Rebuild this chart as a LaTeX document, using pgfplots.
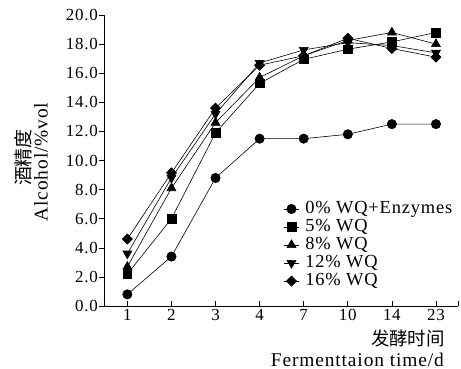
\documentclass[border=0pt]{standalone}
\usepackage{fontspec}
\setmainfont{Liberation Serif}[LetterSpace=4.5]
\newfontfamily\cjk{Noto Sans CJK SC}
\usepackage{pgfplots}
\pgfplotsset{compat=1.18}
\usetikzlibrary{calc}
\newcommand\fs{\fontsize{17}{20}\selectfont}
\newcommand\fl{\fontsize{19.5}{22}\selectfont}
\newcommand\fg{\fontsize{18.5}{21}\selectfont}
\begin{document}
\begin{tikzpicture}
\begin{axis}[name=ax, scale only axis, width=354bp, height=291bp,
  xmin=0.47, xmax=8.5, ymin=0, ymax=20,
  axis x line*=bottom, axis y line*=left,
  axis line style={line width=0.6pt},
  xtick={1,...,8}, xticklabels={1,2,3,4,7,10,14,23},
  extra x ticks={8.5}, extra x tick labels={},
  ytick={0,2,...,20},
  xtick align=inside, ytick align=outside,
  major tick length=5bp,
  tick style={line width=0.6pt, black},
  yticklabel style={inner sep=1bp, /pgf/number format/.cd, fixed, fixed zerofill, precision=1},
  /pgf/number format/assume math mode=true,
  ticklabel style={font=\fs},
  legend style={draw=none, fill=none, at={(0.4986,0.37)}, anchor=north west, font=\fg,
    nodes={inner sep=0pt, text height=13bp, text depth=4bp}, row sep=1bp,
    /tikz/every odd column/.append style={column sep=6bp}},
  legend cell align=left,
  legend image code/.code={\draw[mark repeat=2,mark phase=2] plot coordinates {(0bp,0bp)(7.5bp,0bp)(15bp,0bp)};},
  every axis plot/.append style={black, line width=0.6pt},
  clip=false,
]
\addplot[mark=*, mark size=4.7pt] coordinates {(1,0.8)(2,3.4)(3,8.8)(4,11.5)(5,11.5)(6,11.8)(7,12.5)(8,12.5)};
\addlegendentry{0\% WQ+Enzymes}
\addplot[mark=square*, mark size=4.4pt] coordinates {(1,2.2)(2,6.0)(3,11.9)(4,15.3)(5,16.95)(6,17.65)(7,18.15)(8,18.8)};
\addlegendentry{5\% WQ}
\addplot[mark=triangle*, mark size=5.2pt] coordinates {(1,2.7)(2,8.1)(3,12.6)(4,15.7)(5,17.2)(6,18.25)(7,18.8)(8,18.0)};
\addlegendentry{8\% WQ}
\addplot[mark=triangle*, mark size=5.2pt, mark options={rotate=180}] coordinates {(1,3.6)(2,8.8)(3,13.2)(4,16.7)(5,17.6)(6,18.1)(7,17.9)(8,17.4)};
\addlegendentry{12\% WQ}
\addplot[mark=square*, mark size=3.6pt, mark options={rotate=45}] coordinates {(1,4.6)(2,9.15)(3,13.6)(4,16.55)(5,17.2)(6,18.4)(7,17.7)(8,17.1)};
\addlegendentry{16\% WQ}
\node[anchor=base east, inner sep=0pt, font=\fontsize{18.5}{20}\selectfont\cjk] at ([xshift=-13bp,yshift=-39bp]rel axis cs:1,0) {发酵时间};
\node[anchor=base east, inner sep=0pt, font=\fl] at ([xshift=-14bp,yshift=-60bp]rel axis cs:1,0) {Fermenttaion time/d};
\node[rotate=90, inner sep=0pt, font=\fontsize{19}{20}\selectfont\cjk] at ([xshift=-81bp]rel axis cs:0,0.51) {酒精度};
\node[rotate=90, inner sep=0pt, font=\fl] at ([xshift=-63bp]rel axis cs:0,0.495) {Alcohol/\%vol};
\end{axis}
\pgfresetboundingbox
\path[use as bounding box] ($(ax.south west)+(-104bp,-63bp)$) rectangle ($(ax.north east)+(3bp,15bp)$);
\end{tikzpicture}
\end{document}
